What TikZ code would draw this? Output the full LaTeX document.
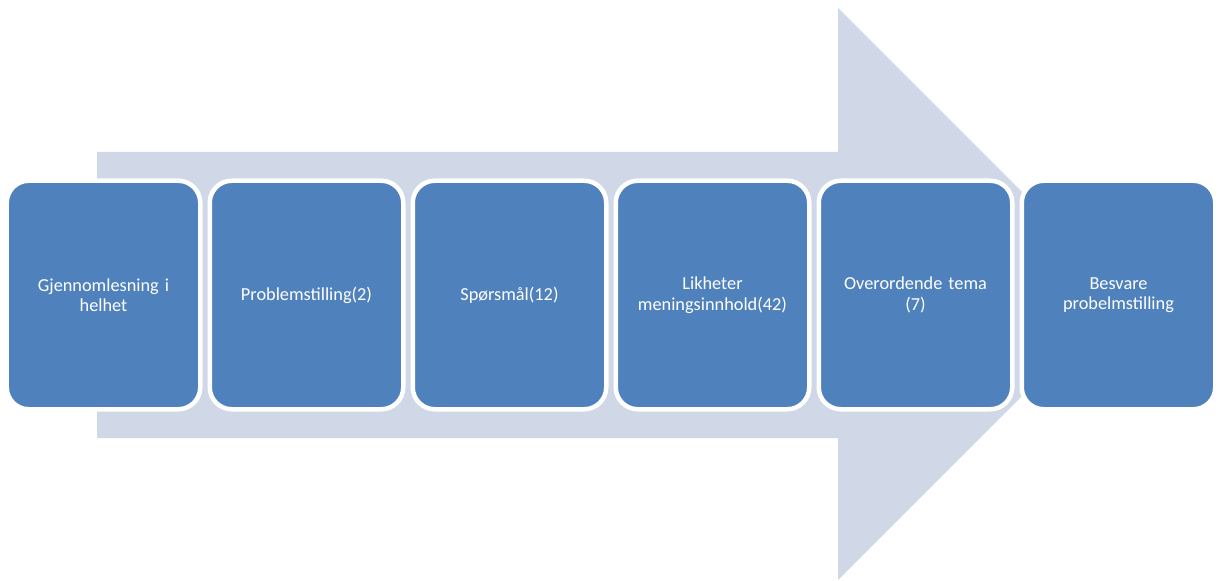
\documentclass[tikz,border=0pt]{standalone}
\usepackage{fontspec}
\setmainfont{Carlito}
\usepackage{xcolor}
\definecolor{arrowfill}{HTML}{D0D8E8}
\definecolor{stepfill}{HTML}{4F81BD}

\begin{document}
\begin{tikzpicture}[x=1bp, y=-1bp,
    stepbox/.style={rectangle, rounded corners=22bp, fill=stepfill, draw=white,
      line width=4.5bp, minimum width=193.5bp, minimum height=228.5bp,
      text width=180bp, align=center, text=white,
      font=\fontsize{18.3bp}{20.5bp}\selectfont}]
    \useasboundingbox (0,0) rectangle (1219,581);

    % big arrow behind the steps
    \fill[arrowfill] (97,152) -- (838,152) -- (838,8) -- (1124,294)
      -- (838,580) -- (838,438) -- (97,438) -- cycle;

    % steps
    \foreach \i/\txt in {1/{Gjennomlesning i\\helhet}, 2/{Problemstilling(2)},
        3/{Spørsmål(12)}, 4/{Likheter\\meningsinnhold(42)},
        5/{Overordende tema\\(7)}, 6/{Besvare\\probelmstilling}}
      \node[stepbox] (s\i) at (103.5+203*\i-203, 295) {\txt};
\end{tikzpicture}
\end{document}
